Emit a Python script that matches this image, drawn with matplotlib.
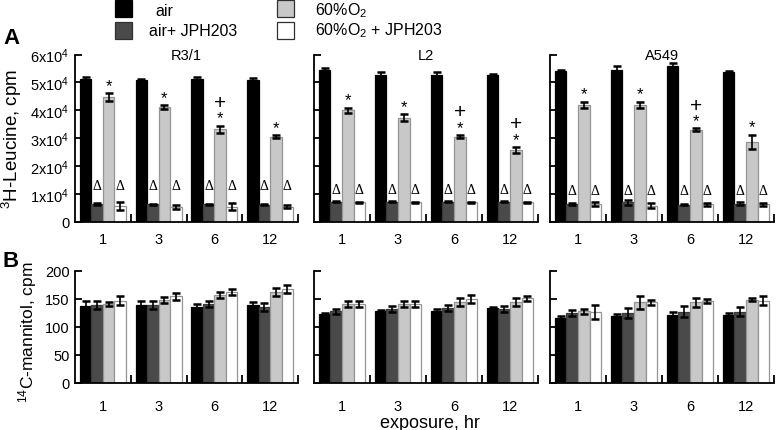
import matplotlib
matplotlib.use('Agg')
import matplotlib.pyplot as plt
from matplotlib.patches import Rectangle
import numpy as np

plt.rcParams['font.family'] = ['Liberation Sans', 'DejaVu Sans']
plt.rcParams['mathtext.default'] = 'regular'

# ---------------- data ----------------
exposure = ['1', '3', '6', '12']
cells = ['R3/1', 'L2', 'A549']
series = ['air', 'air+ JPH203', '60%O$_2$', '60%O$_2$ + JPH203']

# 3H-Leucine (x10^4 cpm): [cell][exposure]
leu_air = [[5.13, 5.07, 5.13, 5.10], [5.46, 5.28, 5.28, 5.25], [5.40, 5.46, 5.58, 5.37]]
leu_air_err = [[0.08, 0.07, 0.08, 0.07], [0.07, 0.10, 0.10, 0.06], [0.04, 0.12, 0.10, 0.03]]
leu_jph = [[0.64, 0.63, 0.63, 0.62], [0.73, 0.73, 0.73, 0.73], [0.65, 0.70, 0.62, 0.65]]
leu_jph_err = [[0.03, 0.03, 0.03, 0.02], [0.03, 0.03, 0.03, 0.03], [0.04, 0.08, 0.02, 0.05]]
leu_o2 = [[4.48, 4.12, 3.32, 3.05], [4.00, 3.74, 3.06, 2.58], [4.20, 4.20, 3.31, 2.88]]
leu_o2_err = [[0.13, 0.07, 0.13, 0.05], [0.10, 0.12, 0.05, 0.10], [0.10, 0.10, 0.04, 0.25]]
leu_o2jph = [[0.57, 0.55, 0.55, 0.55], [0.71, 0.71, 0.71, 0.71], [0.65, 0.59, 0.64, 0.63]]
leu_o2jph_err = [[0.13, 0.07, 0.13, 0.05], [0.02, 0.02, 0.02, 0.02], [0.07, 0.10, 0.05, 0.06]]
plus_marks = [[False, False, True, False], [False, False, True, True], [False, False, True, False]]

# 14C-mannitol (cpm)
man_air = [[138, 139, 136, 139], [123, 128, 128, 134], [116, 119, 122, 122]]
man_air_err = [[8, 8, 5, 5], [2, 3, 4, 2], [4, 4, 4, 3]]
man_jph = [[140, 139, 141, 135], [128, 132, 134, 132], [125, 125, 127, 127]]
man_jph_err = [[7, 7, 6, 7], [4, 5, 5, 5], [6, 9, 10, 8]]
man_o2 = [[141, 148, 157, 163], [141, 141, 145, 144], [128, 144, 144, 149]]
man_o2_err = [[4, 5, 6, 7], [6, 5, 7, 7], [4, 12, 8, 3]]
man_o2jph = [[147, 155, 163, 168], [141, 141, 150, 151], [127, 144, 146, 147]]
man_o2jph_err = [[8, 6, 5, 7], [5, 6, 7, 5], [12, 4, 4, 8]]

leu_ticks = [0, 1, 2, 3, 4, 5, 6]
leu_ticklabels = ['0', '1x10$^4$', '2x10$^4$', '3x10$^4$', '4x10$^4$', '5x10$^4$', '6x10$^4$']
man_ticks = [0, 50, 100, 150, 200]

# ---------------- style ----------------
face = ['#000000', '#4a4a4a', '#c8c8c8', '#ffffff']
edge = ['#000000', '#3a3a3a', '#959595', '#959595']
W, H = 777, 431
fig = plt.figure(figsize=(W / 100, H / 100), dpi=100)

def ax_at(x0, y0, x1, y1):
    return fig.add_axes([x0 / W, 1 - y1 / H, (x1 - x0) / W, (y1 - y0) / H])

cols = [(75, 298), (314, 538), (550, 774)]
rowA = (55.5, 223)
rowB = (272, 384)

bw = 0.206
xc = np.arange(4)
offs = [(k - 1.5) * bw for k in range(4)]

def style_axes(ax, yt, ylabels, first, tickpad):
    for s in ['top', 'right']:
        ax.spines[s].set_visible(False)
    for s in ['left', 'bottom']:
        ax.spines[s].set_linewidth(1.3)
    ax.set_xlim(-0.5, 3.5)
    ax.set_xticks([0.5, 1.5, 2.5, 3.499])
    ax.set_xticklabels([])
    ax.set_xticks(xc, minor=True)
    ax.set_xticklabels(exposure, minor=True, fontsize=10.5)
    ax.tick_params(axis='x', which='major', direction='in', length=6, width=1.3)
    ax.tick_params(axis='x', which='minor', length=0, pad=tickpad)
    ax.set_yticks(yt)
    ax.tick_params(axis='y', direction='in', length=5, width=1.3, labelsize=10.5, pad=4)
    if first:
        ax.set_yticklabels(ylabels)
    else:
        ax.set_yticklabels([])

def draw_bars(ax, vals, errs):
    for k in range(4):
        ax.bar(xc + offs[k], vals[k], width=bw, color=face[k], edgecolor=edge[k],
               linewidth=0.9, zorder=2)
        ax.errorbar(xc + offs[k], vals[k], yerr=errs[k], fmt='none', ecolor='black',
                    elinewidth=1.2, capsize=3, capthick=1.8, zorder=3)

delta_level = [1.30, 1.15, 1.12]

for c in range(3):
    # Panel A
    ax = ax_at(cols[c][0], rowA[0], cols[c][1], rowA[1])
    vals = [leu_air[c], leu_jph[c], leu_o2[c], leu_o2jph[c]]
    errs = [leu_air_err[c], leu_jph_err[c], leu_o2_err[c], leu_o2jph_err[c]]
    draw_bars(ax, vals, errs)
    ax.set_ylim(0, 6)
    style_axes(ax, leu_ticks, leu_ticklabels, c == 0, 7)
    ax.text(0.5, 1.0, cells[c], transform=ax.transAxes, ha='center', va='center', fontsize=10.5)
    for g in range(4):
        top = leu_o2[c][g] + leu_o2_err[c][g]
        ax.text(xc[g] + offs[2], top + 0.12, '*', ha='center', va='baseline', fontsize=12,
                zorder=4)
        if plus_marks[c][g]:
            ax.text(xc[g] + offs[2], top + 0.64, '+', ha='center', va='baseline', fontsize=15,
                    zorder=4)
        for k in (1, 3):
            ax.text(xc[g] + offs[k], delta_level[c], 'Δ', ha='center', va='center',
                    fontsize=10, family=['Liberation Serif', 'DejaVu Serif'], zorder=4)
    if c == 0:
        ax.set_ylabel('$^3$H-Leucine, cpm', fontsize=13.5)
        ax.yaxis.set_label_coords(-0.228, 0.5)

    # Panel B
    axb = ax_at(cols[c][0], rowB[0], cols[c][1], rowB[1])
    valsb = [man_air[c], man_jph[c], man_o2[c], man_o2jph[c]]
    errsb = [man_air_err[c], man_jph_err[c], man_o2_err[c], man_o2jph_err[c]]
    draw_bars(axb, valsb, errsb)
    axb.set_ylim(0, 200)
    style_axes(axb, man_ticks, [str(t) for t in man_ticks], c == 0, 11.5)
    if c == 0:
        axb.set_ylabel('$^{14}$C-mannitol, cpm', fontsize=12.5)
        axb.yaxis.set_label_coords(-0.162, 0.46)

fig.text(430 / W, 1 - 424 / H, 'exposure, hr', ha='center', va='center', fontsize=13)
fig.text(3 / W, 1 - 38 / H, 'A', ha='left', va='center', fontsize=16, fontweight='bold')
fig.text(2 / W, 1 - 262 / H, 'B', ha='left', va='center', fontsize=16, fontweight='bold')

# legend
leg_pos = [(115, 1, 155, 11), (115, 23, 149, 31), (277, 1, 315, 11), (277, 23, 315, 31)]
for k in range(4):
    sx, sy, tx, ty = leg_pos[k]
    fig.patches.append(Rectangle((sx / W, 1 - (sy + 17) / H), 17 / W, 17 / H,
                                 transform=fig.transFigure, facecolor=face[k],
                                 edgecolor='#303030' if k != 0 else 'black', linewidth=0.9))
    fig.text(tx / W, 1 - ty / H, series[k], ha='left', va='center', fontsize=11.5)

fig.savefig('out.png', dpi=100)
